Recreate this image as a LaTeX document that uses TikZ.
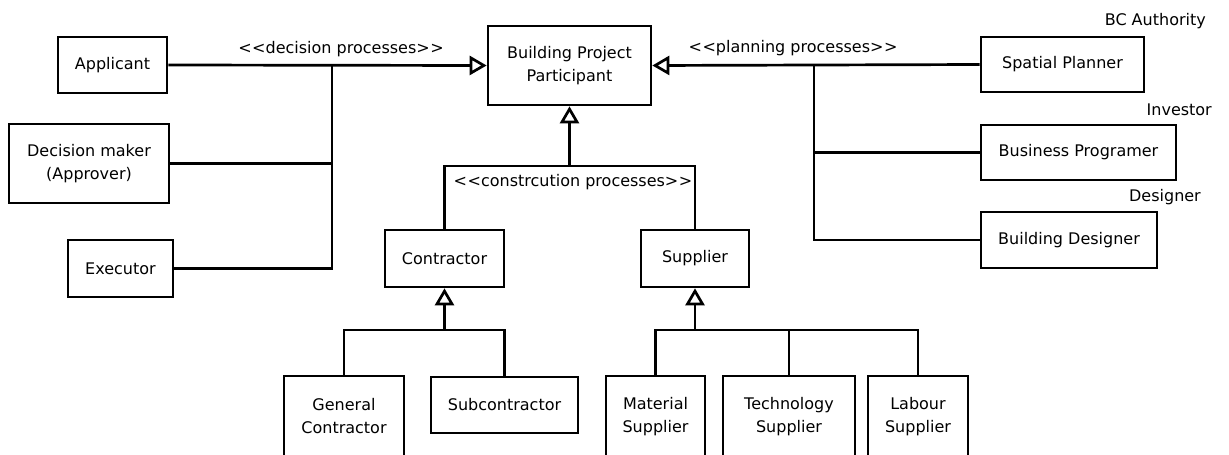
\documentclass[tikz,border=0pt]{standalone}
\usepackage{fontspec}
\setmainfont{DejaVu Sans}
\usetikzlibrary{arrows.meta}
\newcommand\stlt{<\kern0.5pt<}
\newcommand\stgt{>\kern0.5pt>}
\begin{document}
\begin{tikzpicture}[x=1pt,y=-1pt,
  every node/.style={font=\fontsize{16}{23}\selectfont, inner sep=0pt},
  box/.style={draw, line width=2.7pt, align=center, minimum height=56pt},
  conn/.style={line width=2.7pt},
  gen/.style={line width=2.7pt, -{Triangle[open,length=17pt,width=19pt]}},
  lbl/.style={text=black}]
\useasboundingbox (0,0) rectangle (1229,455);
\clip (0,0) rectangle (1229,455);
% nodes
\node[box, minimum width=109pt] (app) at (112.5,65) {Applicant};
\node[box, minimum width=160pt, minimum height=79pt] (dec) at (89,163.5) {Decision maker\\(Approver)};
\node[box, minimum width=105pt, minimum height=57pt] (exe) at (120.5,268.5) {Executor};
\node[box, minimum width=163pt, minimum height=79pt] (bpp) at (569.5,65.5) {Building Project\\Participant};
\node[box, minimum width=163pt, minimum height=55pt] (sp) at (1062.5,64.5) {Spatial Planner};
\node[box, minimum width=195pt, minimum height=55pt] (bp) at (1078.5,152.5) {Business Programer};
\node[box, minimum width=176pt, minimum height=56pt] (bd) at (1069,240) {Building Designer};
\node[box, minimum width=119pt, minimum height=57pt] (con) at (444.5,258.5) {Contractor};
\node[box, minimum width=108pt, minimum height=57pt] (sup) at (695,258.5) {Supplier};
\node[box, minimum width=120pt, minimum height=81pt] (gc) at (344,416.5) {General\\Contractor};
\node[box, minimum width=147pt, minimum height=56pt] (sub) at (504.5,405) {Subcontractor};
\node[box, minimum width=99pt, minimum height=81pt] (ms) at (655.5,416.5) {Material\\Supplier};
\node[box, minimum width=132pt, minimum height=81pt] (ts) at (789,416.5) {Technology\\Supplier};
\node[box, minimum width=100pt, minimum height=81pt] (ls) at (918,416.5) {Labour\\Supplier};
% labels
\node[lbl] (ldec) at (341,49) {\stlt decision processes\stgt};
\node[lbl] (lplan) at (793,48) {\stlt planning processes\stgt};
\node[lbl] (lcon) at (573,182) {\stlt constrcution processes\stgt};
\node[lbl, anchor=east] (lbc) at (1206,21) {BC Authority};
\node[lbl, anchor=east] (linv) at (1212,110) {Investor};
\node[lbl, anchor=east] (ldes) at (1201,197) {Designer};
% junctions
\coordinate (jL) at (332,65);
\coordinate (jR) at (814,65);
\coordinate (jC) at (569.5,166);
\coordinate (jK) at (444.5,330);
\coordinate (jS) at (695,330);
% connectors left
\draw[gen] (app.east) -- (bpp.west);
\draw[conn] (jL) |- (exe.east);
\draw[conn] (dec.east) -- (jL |- dec.east);
% right
\draw[gen] (sp.west) -- (bpp.east);
\draw[conn] (jR) |- (bd.west);
\draw[conn] (bp.west) -- (jR |- bp.west);
% construction
\draw[gen] (jC) -- (bpp.south);
\draw[conn] (con.north) |- (jC) -| (sup.north);
% contractor
\draw[gen] (jK) -- (con.south);
\draw[conn] (gc.north) |- (jK) -| (sub.north);
% supplier
\draw[gen] (jS) -- (sup.south);
\draw[conn] (ms.north) |- (jS);
\draw[conn] (ts.north) |- (jS);
\draw[conn] (ls.north) |- (jS);
\end{tikzpicture}
\end{document}
